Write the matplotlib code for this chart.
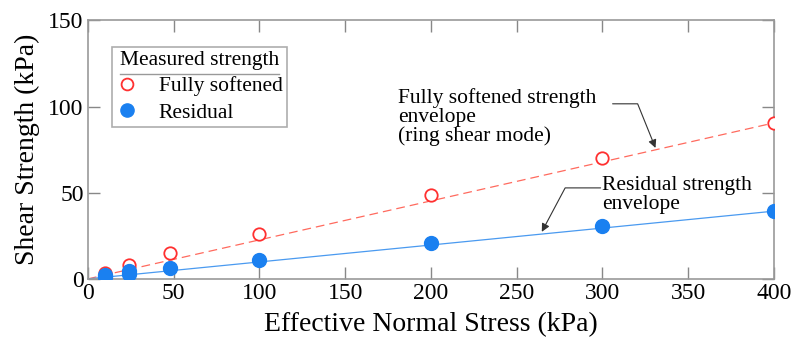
import matplotlib
matplotlib.use("Agg")
import matplotlib.pyplot as plt
import numpy as np
from matplotlib.lines import Line2D

plt.rcParams['font.family'] = ['Liberation Serif', 'DejaVu Serif']

stress_fs = [10, 24, 48, 100, 200, 300, 400]
strength_fs = [3.5, 8, 15, 26, 48.5, 70, 90.5]
stress_res = [10, 10, 24, 24, 48, 100, 200, 300, 400]
strength_res = [1, 2.2, 3, 4.3, 6.5, 11, 21, 30.5, 39.5]
env_x = [0, 400]
env_fs = [0, 90.5]
env_res = [0, 39.3]

fig = plt.figure(figsize=(7.92, 3.46), dpi=100)
ax = fig.add_axes([0.111, 0.194, 0.866, 0.747])

red = '#ff3030'
blue = '#1a80f0'
ax.plot(env_x, env_fs, color='#ff6a5e', lw=0.9, dashes=(7, 4), zorder=2)
ax.plot(env_x, env_res, color='#4a9af0', lw=0.9, zorder=2)
ax.scatter(stress_fs, strength_fs, s=80, facecolors='white', edgecolors=red, linewidths=1.3, zorder=3)
ax.scatter(stress_res, strength_res, s=100, color=blue, zorder=3)

ax.set_xlim(0, 400)
ax.set_ylim(0, 150)
ax.set_xticks(np.arange(0, 401, 50))
ax.set_yticks([0, 50, 100, 150])
ax.tick_params(direction='in', length=8.5, width=1, color='#888888', top=True, right=True, labelsize=17, pad=3)
for s in ax.spines.values():
    s.set_color('#999999')
    s.set_linewidth(1.2)
ax.set_xlabel('Effective Normal Stress (kPa)', fontsize=20, labelpad=6)
ax.set_ylabel('Shear Strength (kPa)', fontsize=20, labelpad=6)

h1 = Line2D([], [], marker='o', ls='none', markerfacecolor='white', markeredgecolor=red, markersize=8.5, markeredgewidth=1.3)
h2 = Line2D([], [], marker='o', ls='none', color=blue, markersize=9.5)
leg = ax.legend([h1, h2], ['Fully softened', 'Residual'], title='Measured strength',
                loc='upper left', bbox_to_anchor=(0.0345, 0.899), fontsize=15.5, title_fontsize=15.5,
                frameon=True, fancybox=False, edgecolor='#999999', borderpad=0.2,
                handletextpad=1.0, labelspacing=0.3, handlelength=1.0, borderaxespad=0)
leg._legend_title_box._text.set_y(0)
leg.get_frame().set_linewidth(1.2)

# annotation texts
ax.text(181, 111, 'Fully softened strength\nenvelope\n(ring shear mode)', fontsize=15.5,
        ha='left', va='top', linespacing=1.0)
ax.text(300, 59.5, 'Residual strength\nenvelope', fontsize=15.5, ha='left', va='top', linespacing=0.95)
# leader arrows
ax.annotate('', xy=(331, 76), xytext=(306, 101.6),
            arrowprops=dict(arrowstyle='-|>', color='#333333', lw=0.8, mutation_scale=12,
                            connectionstyle='angle,angleA=0,angleB=112,rad=0',
                            shrinkA=0, shrinkB=0))
ax.annotate('', xy=(264.7, 27.3), xytext=(299, 52.8),
            arrowprops=dict(arrowstyle='-|>', color='#333333', lw=0.8, mutation_scale=12,
                            connectionstyle='angle,angleA=180,angleB=62,rad=0',
                            shrinkA=0, shrinkB=0))

# separator line under legend title
fig.canvas.draw()
r = fig.canvas.get_renderer()
tb = leg.get_title().get_window_extent(r)
inv = fig.transFigure.inverted()
y_line = tb.y0 - 4
x0, y0 = inv.transform((tb.x0, y_line))
x1, _ = inv.transform((tb.x1, y_line))
fig.add_artist(Line2D([x0, x1], [y0, y0], color='#999999', lw=1.0, transform=fig.transFigure))

fig.savefig('out.png', dpi=100)
